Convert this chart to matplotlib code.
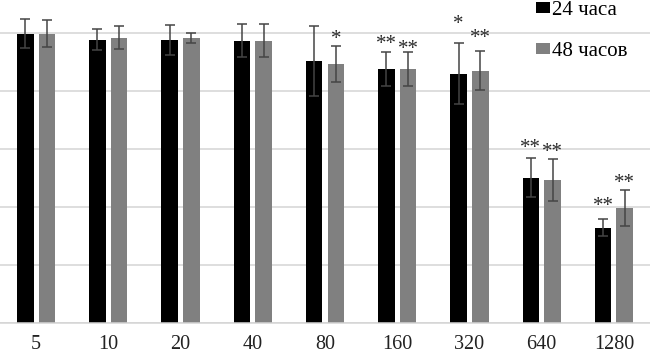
import matplotlib.pyplot as plt
import numpy as np

plt.rcParams['font.family'] = ['Liberation Serif', 'DejaVu Serif']

doses = ["5", "10", "20", "40", "80", "160", "320", "640", "1280"]
mean_24 = [99.8, 97.8, 97.8, 97.4, 90.5, 87.7, 86.0, 50.2, 33.0]
err_24 = [5.0, 3.7, 5.2, 5.7, 12.0, 5.7, 10.5, 6.7, 2.8]
mean_48 = [99.9, 98.5, 98.5, 97.4, 89.3, 87.7, 87.1, 49.5, 39.8]
err_48 = [4.7, 4.0, 1.7, 5.7, 6.2, 5.7, 6.7, 7.2, 6.3]

# significance marks and the height of their centre
stars_24 = ["", "", "", "", "", "**", "*", "**", "**"]
stars_24_y = [0, 0, 0, 0, 0, 98.5, 105.5, 62.9, 42.9]
stars_48 = ["", "", "", "", "*", "**", "**", "**", "**"]
stars_48_y = [0, 0, 0, 0, 100.5, 96.9, 100.8, 61.5, 50.9]

x = np.arange(len(doses))
w = 0.23
off = 0.15

fig = plt.figure(figsize=(6.5, 3.58), dpi=100)
ax = fig.add_axes([0, 0.097, 1, 0.903])

ax.yaxis.grid(True, color="#d4d4d4", linewidth=1.1)
ax.set_axisbelow(True)

ekw = dict(ecolor="#454545", elinewidth=1.1, capsize=3.5, capthick=1.1)
ax.bar(x - off, mean_24, w, color="black", yerr=err_24, error_kw=ekw, label="24 часа")
ax.bar(x + off, mean_48, w, color="#808080", yerr=err_48, error_kw=ekw, label="48 часов")

for xs, labels, ys in ((x - off, stars_24, stars_24_y), (x + off, stars_48, stars_48_y)):
    for xi, s, yi in zip(xs, labels, ys):
        if s:
            ax.annotate(s, (xi, yi), xytext=(0, -8.5), textcoords="offset points",
                        ha="center", va="baseline", fontsize=15, color="#2a2a2a")

ax.set_xlim(-0.5, len(doses) - 0.5)
ax.set_ylim(0, 111.5)
ax.set_yticks(np.arange(0, 101, 20))
ax.set_yticklabels([])
ax.tick_params(axis="y", length=0)
ax.set_xticks(x)
ax.set_xticklabels(doses, fontsize=14.5, color="#222222")
ax.tick_params(axis="x", length=0, pad=8.5)

for side in ("top", "right", "left"):
    ax.spines[side].set_visible(False)
ax.spines["bottom"].set_color("#d4d4d4")
ax.spines["bottom"].set_linewidth(1.1)

ax.legend(loc="upper left", bbox_to_anchor=(536 / 650, 0.997), bbox_transform=fig.transFigure,
          frameon=False, fontsize=15, handlelength=0.68, handleheight=0.44,
          handletextpad=0.08, labelspacing=1.05, borderpad=0.0, borderaxespad=0.0)

fig.savefig("out.png", dpi=100)
